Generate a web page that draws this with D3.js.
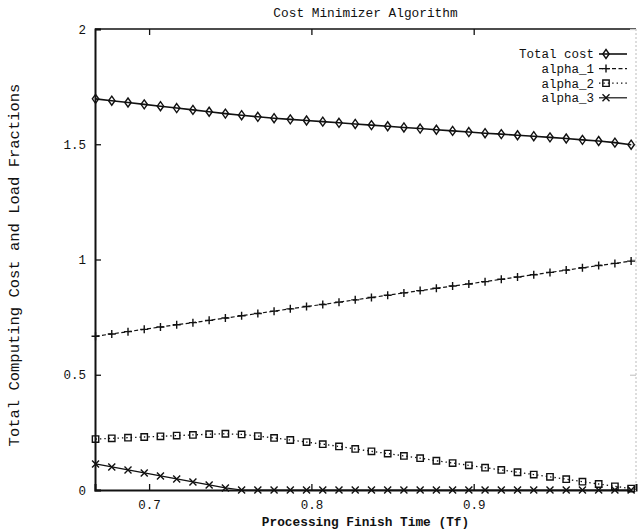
<!DOCTYPE html>
<html>
<head>
<meta charset="utf-8">
<script src="https://cdn.jsdelivr.net/npm/d3@7"></script>
<style>
  body { margin: 0; background: #fff; }
  text { font-family: "Liberation Mono", "DejaVu Sans Mono", monospace; fill: #111; }
</style>
</head>
<body>
<svg id="chart" width="639" height="532"></svg>
<script>
// processing finish time (x values)
const tf = [0.667, 0.677, 0.687, 0.697, 0.707, 0.717, 0.727, 0.737, 0.747, 0.757,
  0.767, 0.777, 0.787, 0.797, 0.807, 0.817, 0.827, 0.837, 0.847, 0.857,
  0.867, 0.877, 0.887, 0.897, 0.907, 0.917, 0.927, 0.937, 0.947, 0.957,
  0.967, 0.977, 0.987, 0.997];

const totalCost = [1.697, 1.689, 1.681, 1.673, 1.665, 1.657, 1.649, 1.641, 1.633, 1.626,
  1.619, 1.613, 1.608, 1.603, 1.598, 1.593, 1.588, 1.583, 1.578, 1.573,
  1.568, 1.563, 1.558, 1.553, 1.548, 1.544, 1.539, 1.535, 1.530, 1.525,
  1.519, 1.514, 1.507, 1.498];

const alpha1 = [0.667, 0.677, 0.687, 0.697, 0.707, 0.717, 0.726, 0.736, 0.746, 0.756,
  0.766, 0.776, 0.786, 0.796, 0.805, 0.815, 0.825, 0.835, 0.845, 0.855,
  0.865, 0.875, 0.885, 0.894, 0.904, 0.914, 0.924, 0.934, 0.944, 0.954,
  0.964, 0.974, 0.983, 0.993];

const alpha2 = [0.221, 0.224, 0.227, 0.230, 0.233, 0.236, 0.239, 0.242, 0.244, 0.241,
  0.234, 0.226, 0.217, 0.208, 0.199, 0.189, 0.178, 0.168, 0.158, 0.148,
  0.138, 0.127, 0.117, 0.107, 0.097, 0.087, 0.077, 0.067, 0.057, 0.047,
  0.036, 0.026, 0.016, 0.006];

const alpha3 = [0.113, 0.100, 0.087, 0.074, 0.061, 0.048, 0.035, 0.022, 0.009, 0,
  0, 0, 0, 0, 0, 0, 0, 0, 0, 0,
  0, 0, 0, 0, 0, 0, 0, 0, 0, 0,
  0, 0, 0, 0];

const seriesNames = ["Total cost", "alpha_1", "alpha_2", "alpha_3"];
const xTicks = [0.7, 0.8, 0.9];
const yTicks = [0, 0.5, 1, 1.5, 2];

const svg = d3.select("#chart");
const plot = { left: 95, right: 636, top: 29, bottom: 490 };

const x = d3.scaleLinear().domain([2 / 3, 1]).range([plot.left, plot.right]);
const y = d3.scaleLinear().domain([0, 2]).range([plot.bottom, plot.top]);

const series = [
  { name: seriesNames[0], values: totalCost, dash: null, width: 1.6, marker: "diamond" },
  { name: seriesNames[1], values: alpha1, dash: "4,2.5", width: 1.2, marker: "plus" },
  { name: seriesNames[2], values: alpha2, dash: "1.4,3", width: 1.3, marker: "square" },
  { name: seriesNames[3], values: alpha3, dash: null, width: 1.2, marker: "cross" },
];

const markerPath = (type) => {
  switch (type) {
    case "diamond": return "M0,-4.5L3.2,0L0,4.5L-3.2,0Z";
    case "plus": return "M-4,0H4M0,-4V4";
    case "square": return "M-3.2,-3.2H3.2V3.2H-3.2Z";
    default: return "M-3.5,-3.5L3.5,3.5M-3.5,3.5L3.5,-3.5";
  }
};

// frame
svg.append("line").attr("x1", plot.left).attr("x2", plot.right)
  .attr("y1", plot.top).attr("y2", plot.top)
  .attr("stroke", "#111").attr("stroke-width", 1.6);
svg.append("line").attr("x1", plot.right).attr("x2", plot.right)
  .attr("y1", plot.top).attr("y2", plot.bottom)
  .attr("stroke", "#bbb").attr("stroke-width", 1).attr("stroke-dasharray", "2,2");

// axes
const xAxis = svg.append("g").attr("transform", `translate(0,${plot.bottom})`)
  .call(d3.axisBottom(x).tickValues(xTicks).tickSize(-6).tickPadding(10).tickFormat(d3.format(".1f")));
const xAxisTop = svg.append("g").attr("transform", `translate(0,${plot.top})`)
  .call(d3.axisTop(x).tickValues(xTicks).tickSize(-6).tickFormat(""));
const yAxis = svg.append("g").attr("transform", `translate(${plot.left},0)`)
  .call(d3.axisLeft(y).tickValues(yTicks).tickSize(-6).tickPadding(9).tickFormat(d => d3.format("")(d)));
const yAxisRight = svg.append("g").attr("transform", `translate(${plot.right},0)`)
  .call(d3.axisRight(y).tickValues(yTicks).tickSize(-6).tickFormat(""));

[xAxis, xAxisTop, yAxis, yAxisRight].forEach(g => {
  g.selectAll(".tick line").attr("stroke", "#111").attr("stroke-width", 1.3);
  g.selectAll("text").attr("font-size", 12.5).attr("font-family", "Liberation Mono").attr("fill", "#111");
});
xAxis.select(".domain").attr("stroke", "#111").attr("stroke-width", 2);
yAxis.select(".domain").attr("stroke", "#111").attr("stroke-width", 2);
xAxisTop.select(".domain").remove();
yAxisRight.select(".domain").remove();
yAxisRight.selectAll(".tick line").attr("stroke", "#ccc");

// lines and markers
const line = d3.line().x((d, i) => x(tf[i])).y(d => y(d));

series.forEach(s => {
  svg.append("path")
    .datum(s.values)
    .attr("d", line)
    .attr("fill", "none")
    .attr("stroke", "#111")
    .attr("stroke-width", s.width)
    .attr("stroke-dasharray", s.dash);

  svg.append("g").selectAll("path")
    .data(s.values)
    .join("path")
    .attr("transform", (d, i) => `translate(${x(tf[i])},${y(d)})`)
    .attr("d", markerPath(s.marker))
    .attr("fill", "none")
    .attr("stroke", "#111")
    .attr("stroke-width", 1.4);
});

// legend
const legend = svg.append("g");
series.forEach((s, i) => {
  const ly = 54 + i * 14.6;
  legend.append("text")
    .attr("x", 594).attr("y", ly).attr("dy", "0.35em")
    .attr("text-anchor", "end").attr("font-size", 12.5)
    .text(s.name);
  legend.append("line")
    .attr("x1", 599).attr("x2", 627).attr("y1", ly).attr("y2", ly)
    .attr("stroke", "#111").attr("stroke-width", s.width)
    .attr("stroke-dasharray", s.dash);
  legend.append("path")
    .attr("transform", `translate(606,${ly})`)
    .attr("d", markerPath(s.marker))
    .attr("fill", "none").attr("stroke", "#111").attr("stroke-width", 1.4);
});

// titles
svg.append("text")
  .attr("x", (plot.left + plot.right) / 2).attr("y", 17)
  .attr("text-anchor", "middle").attr("font-size", 12.8)
  .text("Cost Minimizer Algorithm");

svg.append("text")
  .attr("x", (plot.left + plot.right) / 2).attr("y", 526)
  .attr("text-anchor", "middle").attr("font-size", 12.8).attr("font-weight", "bold")
  .text("Processing Finish Time (Tf)");

svg.append("text")
  .attr("transform", "translate(19,265) rotate(-90)")
  .attr("text-anchor", "middle").attr("font-size", 15.5)
  .text("Total Computing Cost and Load Fractions");
</script>
</body>
</html>
